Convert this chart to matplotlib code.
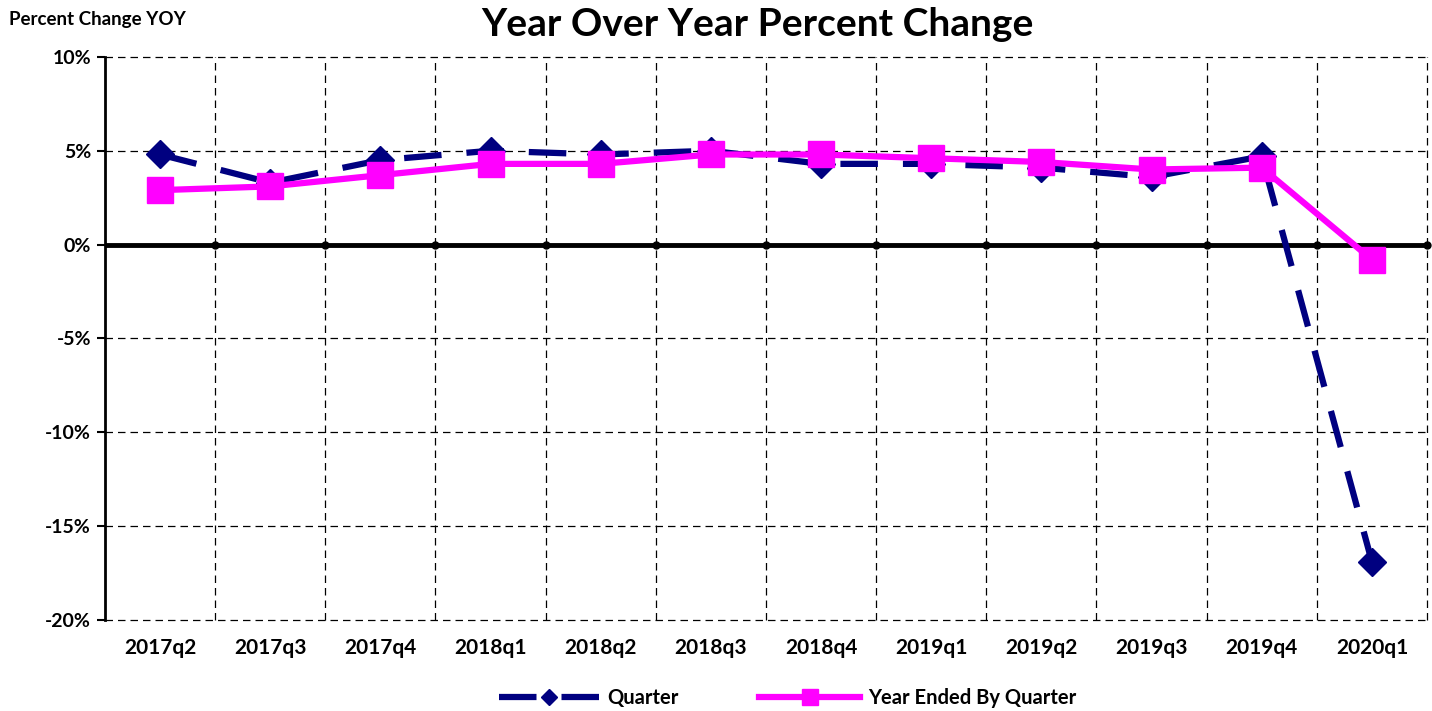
import matplotlib.pyplot as plt
import numpy as np

plt.rcParams['font.family'] = ['Lato', 'DejaVu Sans']

quarters = ['2017q2', '2017q3', '2017q4', '2018q1', '2018q2', '2018q3',
            '2018q4', '2019q1', '2019q2', '2019q3', '2019q4', '2020q1']
quarter_pct = [4.8, 3.3, 4.5, 5.0, 4.8, 5.0, 4.3, 4.3, 4.1, 3.6, 4.7, -16.9]
year_ended_pct = [2.9, 3.1, 3.7, 4.3, 4.3, 4.8, 4.8, 4.6, 4.4, 4.0, 4.1, -0.8]
y_ticks = [10, 5, 0, -5, -10, -15, -20]

fig = plt.figure(figsize=(14.32, 7.11), dpi=100)
ax = fig.add_axes([0.0733, 0.128, 0.9232, 0.792])

x = np.arange(len(quarters))
ax.set_xlim(-0.5, len(quarters) - 0.5)
ax.set_ylim(-20, 10)

# grid: dashed lines at category boundaries and at each 5%
for b in np.arange(0.5, len(quarters), 1.0):
    ax.axvline(b, color='black', lw=0.9, ls=(0, (6, 4)), zorder=1, clip_on=False)
for t in y_ticks:
    if t != 0:
        ax.axhline(t, color='black', lw=0.9, ls=(0, (6, 4)), zorder=1, clip_on=False)

# zero line with dots at the boundaries
ax.axhline(0, color='black', lw=3.5, zorder=2)
ax.scatter(np.arange(0.5, len(quarters), 1.0), np.zeros(len(quarters)),
           s=25, color='black', zorder=2, clip_on=False)

ax.plot(x, quarter_pct, color='#000080', lw=4.5, ls=(0, (6, 4)),
        marker='D', markersize=14, label='Quarter', zorder=3)
ax.plot(x, year_ended_pct, color='#FF00FF', lw=4.5,
        marker='s', markersize=19, label='Year Ended By Quarter', zorder=4)

ax.set_xticks(x)
ax.set_xticklabels(quarters, fontsize=15, fontweight='bold')
ax.tick_params(axis='x', length=0, pad=13)
ax.set_yticks(y_ticks)
ax.set_yticklabels([f'{t}%' for t in y_ticks], fontsize=14, fontweight='bold')
ax.tick_params(axis='y', length=6, width=1.5, direction='out', pad=4)

for s in ['top', 'right', 'bottom']:
    ax.spines[s].set_visible(False)
ax.spines['left'].set_linewidth(2)

fig.text(0.529, 0.965, 'Year Over Year Percent Change', ha='center', va='center',
         fontsize=28, fontweight='bold')
fig.text(0.006, 0.973, 'Percent Change YOY', ha='left', va='center',
         fontsize=13.5, fontweight='bold')

fig.legend(loc='center', bbox_to_anchor=(0.55, 0.018), ncol=2, frameon=False,
           prop={'weight': 'bold', 'size': 14.5}, handlelength=5, columnspacing=4,
           markerscale=0.6, handletextpad=0.4)

fig.savefig('out.png', dpi=100)
